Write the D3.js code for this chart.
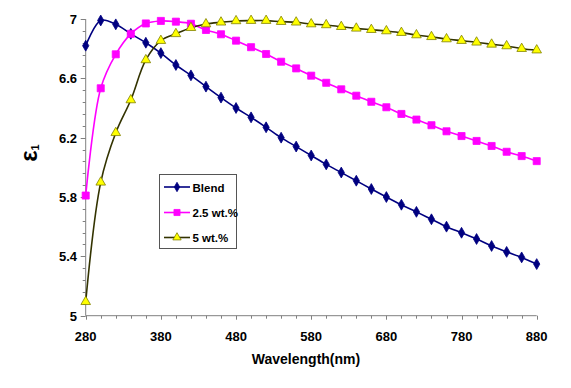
<!DOCTYPE html>
<html>
<head>
<meta charset="utf-8">
<script src="https://cdn.jsdelivr.net/npm/d3@7"></script>
<style>
  html, body { margin: 0; padding: 0; background: #fff; }
  svg { display: block; font-family: "Liberation Sans", Arial, sans-serif; }
</style>
</head>
<body>
<svg id="chart" width="571" height="388"></svg>
<script>
// ---- data ----
const wavelengths = d3.range(280, 881, 20);
const blend = [6.82, 6.99, 6.964, 6.90, 6.84, 6.77, 6.69, 6.62, 6.544, 6.47, 6.40, 6.337, 6.27, 6.20,
  6.14, 6.08, 6.02, 5.965, 5.91, 5.854, 5.80, 5.748, 5.70, 5.65, 5.60, 5.559, 5.517, 5.47, 5.43, 5.393, 5.348];
const wt25 = [5.81, 6.533, 6.762, 6.90, 6.97, 6.987, 6.982, 6.968, 6.926, 6.897, 6.854, 6.81, 6.764, 6.712,
  6.667, 6.618, 6.57, 6.526, 6.483, 6.442, 6.405, 6.36, 6.322, 6.284, 6.243, 6.211, 6.178, 6.144, 6.105, 6.076, 6.042];
const wt5 = [5.094, 5.899, 6.233, 6.454, 6.724, 6.854, 6.90, 6.941, 6.966, 6.978, 6.987, 6.989, 6.989, 6.982,
  6.978, 6.966, 6.96, 6.948, 6.937, 6.928, 6.919, 6.908, 6.892, 6.88, 6.865, 6.854, 6.843, 6.829, 6.818, 6.80, 6.79];
const seriesNames = ["Blend", "2.5 wt.%", "5 wt.%"];
const xTickValues = [280, 380, 480, 580, 680, 780, 880];
const yTickValues = [5, 5.4, 5.8, 6.2, 6.6, 7];
const yTickLabels = ["5", "5.4", "5.8", "6.2", "6.6", "7"];

const series = [
  { name: seriesNames[0], values: blend, line: "#000080", fill: "#000080", stroke: "#000080", shape: d3.symbolDiamond, size: 34 },
  { name: seriesNames[1], values: wt25, line: "#FF00FF", fill: "#FF00FF", stroke: "#FF00FF", shape: d3.symbolSquare, size: 50 },
  { name: seriesNames[2], values: wt5, line: "#333300", fill: "#FFFF00", stroke: "#808000", shape: d3.symbolTriangle, size: 40 }
];

// ---- layout ----
const svg = d3.select("#chart");
const pLeft = 85.7, pRight = 536.7, pTop = 19, pBottom = 315.7;
const x = d3.scaleLinear().domain([280, 880]).range([pLeft, pRight]);
const y = d3.scaleLinear().domain([5, 7]).range([pBottom, pTop]);
const axisColor = "#808080";

// minor ticks
const xMinor = d3.range(280, 881, 20);
const yMinor = d3.range(0, 26).map(i => 5 + i * 0.08);

const gx = svg.append("g");
gx.append("line").attr("x1", pLeft).attr("x2", pRight).attr("y1", pBottom).attr("y2", pBottom)
  .attr("stroke", axisColor).attr("stroke-width", 1);
gx.selectAll("line.minor").data(xMinor).enter().append("line")
  .attr("x1", d => Math.round(x(d)) + 0.5).attr("x2", d => Math.round(x(d)) + 0.5)
  .attr("y1", pBottom).attr("y2", d => pBottom + (xTickValues.includes(d) ? 4 : 3))
  .attr("stroke", axisColor);
gx.selectAll("text").data(xTickValues).enter().append("text")
  .attr("x", d => x(d)).attr("y", 341)
  .attr("text-anchor", "middle").attr("font-size", 13).attr("font-weight", "bold").attr("fill", "#000")
  .text(d => d);

const gy = svg.append("g");
gy.append("line").attr("x1", pLeft).attr("x2", pLeft).attr("y1", pTop).attr("y2", pBottom)
  .attr("stroke", axisColor).attr("stroke-width", 1);
gy.selectAll("line.minor").data(yMinor).enter().append("line")
  .attr("x1", pLeft).attr("x2", (d, i) => pLeft - (i % 5 === 0 ? 5 : 3))
  .attr("y1", d => Math.round(y(d)) + 0.5).attr("y2", d => Math.round(y(d)) + 0.5)
  .attr("stroke", axisColor);
gy.selectAll("text").data(yTickValues).enter().append("text")
  .attr("x", 77).attr("y", d => y(d) + 5)
  .attr("text-anchor", "end").attr("font-size", 13).attr("font-weight", "bold").attr("fill", "#000")
  .text((d, i) => yTickLabels[i]);

// axis titles
svg.append("text").attr("x", 306).attr("y", 364).attr("text-anchor", "middle")
  .attr("font-size", 14).attr("font-weight", "bold").text("Wavelength(nm)");
const yt = svg.append("text").attr("transform", "translate(37,153) rotate(-90)")
  .attr("text-anchor", "middle").attr("font-size", 24).attr("font-weight", "bold");
yt.append("tspan").text("ε");
yt.append("tspan").attr("font-size", 11).attr("dy", 2).text("1");

// lines
const lineGen = d3.line().curve(d3.curveCatmullRom.alpha(0.5))
  .x((d, i) => x(wavelengths[i])).y(d => y(d));

series.forEach(s => {
  svg.append("path").attr("d", lineGen(s.values)).attr("fill", "none")
    .attr("stroke", s.line).attr("stroke-width", 1.6);
});
series.forEach(s => {
  svg.append("g").selectAll("path").data(s.values).enter().append("path")
    .attr("d", d3.symbol().type(s.shape).size(s.size))
    .attr("transform", (d, i) => `translate(${x(wavelengths[i])},${y(d)})`)
    .attr("fill", s.fill).attr("stroke", s.stroke).attr("stroke-width", 0.8);
});

// legend
const lg = svg.append("g");
lg.append("rect").attr("x", 159.5).attr("y", 174.5).attr("width", 77).attr("height", 74)
  .attr("fill", "#fff").attr("stroke", "#555").attr("stroke-width", 1);
const legendY = [187, 212.5, 237.5];
series.forEach((s, i) => {
  lg.append("line").attr("x1", 164).attr("x2", 190).attr("y1", legendY[i]).attr("y2", legendY[i])
    .attr("stroke", s.line).attr("stroke-width", 1.6);
  lg.append("path").attr("d", d3.symbol().type(s.shape).size(s.size * 0.75))
    .attr("transform", `translate(177,${legendY[i]})`)
    .attr("fill", s.fill).attr("stroke", s.stroke).attr("stroke-width", 0.8);
  lg.append("text").attr("x", 192.5).attr("y", legendY[i] + 4.5)
    .attr("font-size", 11.5).attr("font-weight", "bold").text(s.name);
});
</script>
</body>
</html>
